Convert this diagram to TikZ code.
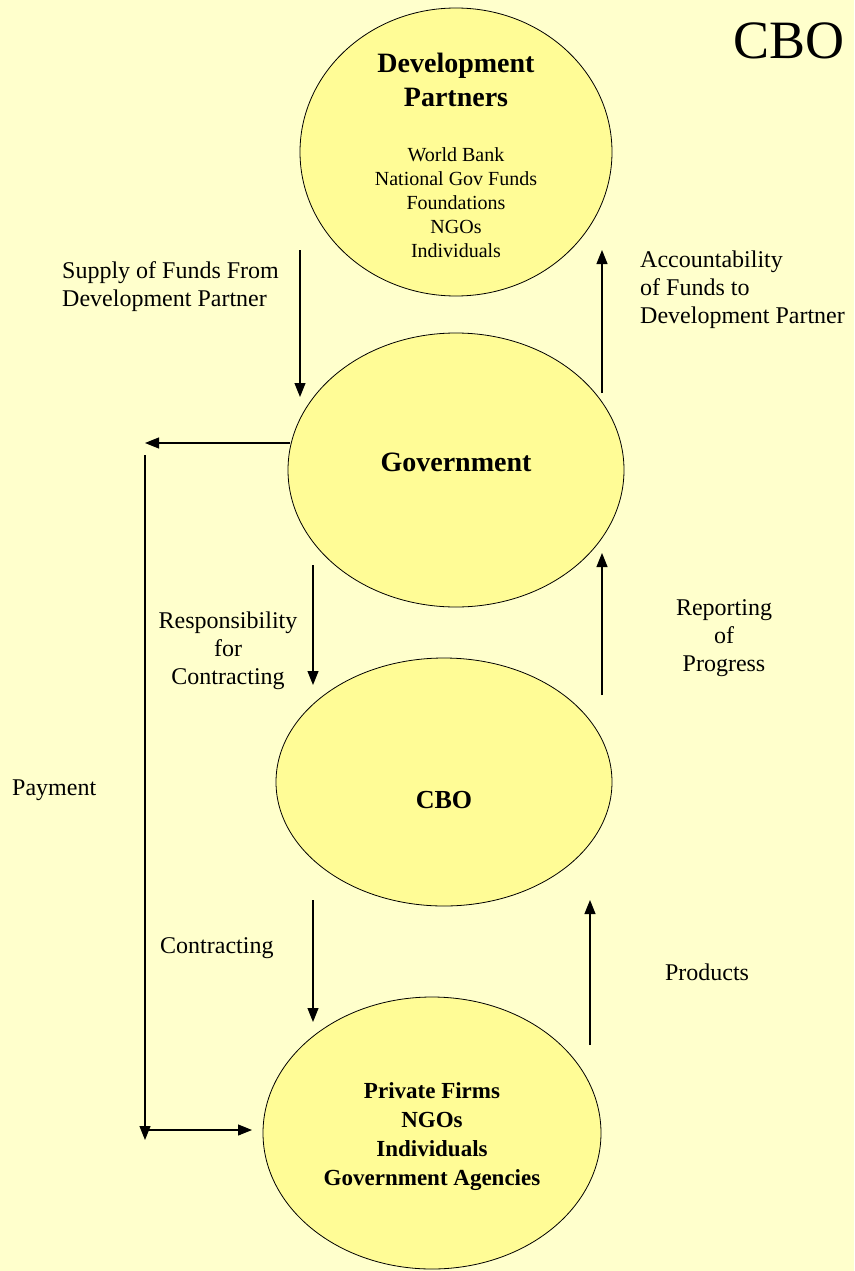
\documentclass[tikz,border=0pt]{standalone}
\usepackage{fontspec}
\setmainfont{Liberation Serif}
\usetikzlibrary{arrows.meta,shapes.geometric}
\definecolor{paper}{RGB}{255,255,204}
\definecolor{blobfill}{RGB}{255,252,150}

\begin{document}
\begin{tikzpicture}[x=1pt,y=-1pt,
    blob/.style={ellipse,draw=black,fill=blobfill,line width=0.8pt,inner sep=0pt},
    flow/.style={-{Triangle[length=14pt,width=11pt]},line width=1.1pt},
    lbl/.style={font=\fontsize{24}{28}\selectfont,inner sep=0pt},
    head/.style={font=\bfseries\fontsize{28}{34}\selectfont,inner sep=0pt,align=center},
    items/.style={font=\fontsize{20}{24}\selectfont,inner sep=0pt,align=center},
    members/.style={font=\bfseries\fontsize{23}{29}\selectfont,inner sep=0pt,align=center}]
            \fill[paper] (0,0) rectangle (854,1271);
            \useasboundingbox (0,0) rectangle (854,1271);
            % title (cut off at the top)
            \node[font=\fontsize{54}{60}\selectfont,inner sep=0pt] (title) at (789,41) {CBO};
            % the four circles
            \node[blob,minimum width=312pt,minimum height=288pt] (dp) at (456,152) {};
            \node[blob,minimum width=336pt,minimum height=274pt] (gov) at (456,470) {};
            \node[blob,minimum width=336pt,minimum height=248pt] (cbo) at (444,782) {};
            \node[blob,minimum width=338pt,minimum height=272pt] (firms) at (432,1133) {};
            \node[head] (dptitle) at (456,80) {Development\\Partners};
            \node[items] (dplist) at (456,203) {World Bank\\National Gov Funds\\Foundations\\NGOs\\Individuals};
            \node[head] (govtitle) at (456,462) {Government};
            \node[head,font=\bfseries\fontsize{26}{32}\selectfont] (cbotitle) at (444,800) {CBO};
            \node[members] (firmlist) at (432,1137) {Private Firms\\NGOs\\Individuals\\Government Agencies};
            % free ends of the arrows
            \coordinate (supA) at (300,250);
            \coordinate (supB) at (300,397);
            \coordinate (accA) at (602,393);
            \coordinate (accB) at (602,250);
            \coordinate (govA) at (290,443);
            \coordinate (govB) at (145,443);
            \coordinate (payA) at (145,455);
            \coordinate (payB) at (145,1140);
            \coordinate (payC) at (145,1130);
            \coordinate (payD) at (252,1130);
            \coordinate (resA) at (313,565);
            \coordinate (resB) at (313,685);
            \coordinate (repA) at (602,695);
            \coordinate (repB) at (602,553);
            \coordinate (conA) at (313,900);
            \coordinate (conB) at (313,1022);
            \coordinate (proA) at (590,1045);
            \coordinate (proB) at (590,900);
            \draw[flow] (supA) -- (supB);
            \draw[flow] (accA) -- (accB);
            \draw[flow] (govA) -- (govB);
            \draw[flow] (payA) -- (payB);
            \draw[flow] (payC) -- (payD);
            \draw[flow] (resA) -- (resB);
            \draw[flow] (repA) -- (repB);
            \draw[flow] (conA) -- (conB);
            \draw[flow] (proA) -- (proB);
            % labels
            \node[lbl,align=left,anchor=west] (suplbl) at (62,287) {Supply of Funds From\\Development Partner};
            \node[lbl,align=left,anchor=west] (acclbl) at (640,290) {Accountability\\of Funds to\\Development Partner};
            \node[lbl,align=center] (reslbl) at (228,651) {Responsibility\\for\\Contracting};
            \node[lbl,align=center] (replbl) at (724,638) {Reporting\\of\\Progress};
            \node[lbl,anchor=west] (paylbl) at (12,790) {Payment};
            \node[lbl,anchor=west] (conlbl) at (160,948) {Contracting};
            \node[lbl] (prolbl) at (707,972) {Products};
        \end{tikzpicture}
\end{document}
